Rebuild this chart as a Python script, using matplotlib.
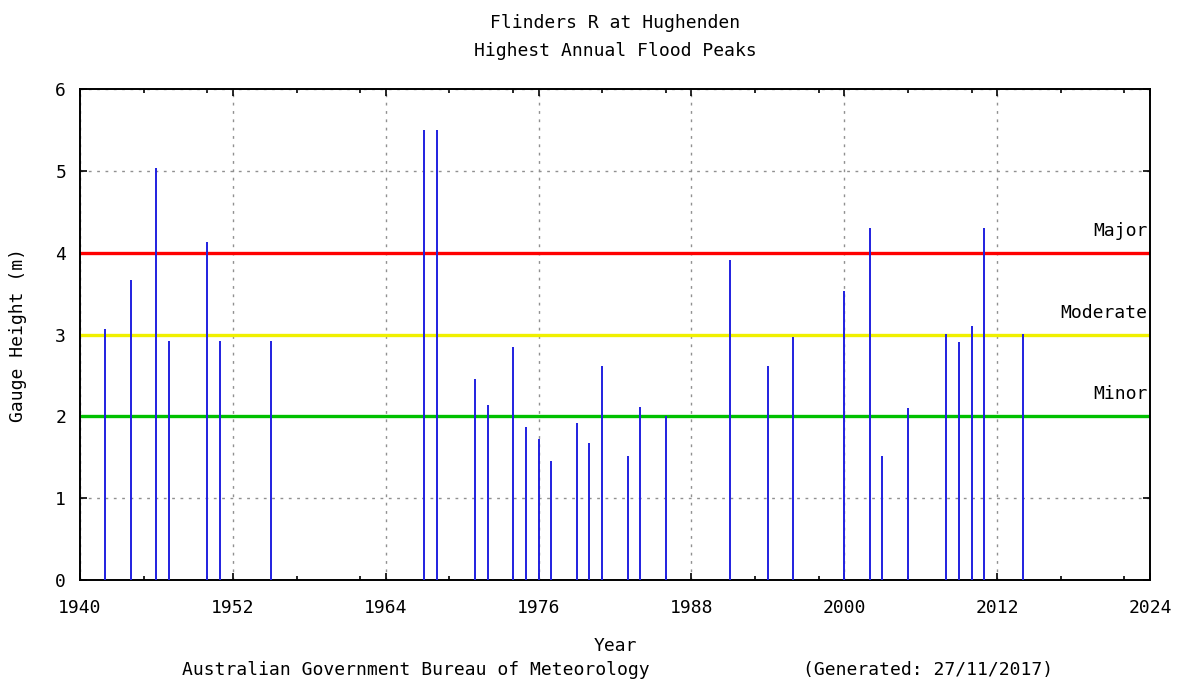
import matplotlib.pyplot as plt
from matplotlib.ticker import FixedLocator

# Highest annual flood peaks (gauge height, m)
years = [1942, 1944, 1946, 1947, 1950, 1951, 1955, 1967, 1968, 1971, 1972,
         1974, 1975, 1976, 1977, 1979, 1980, 1981, 1983, 1984, 1986, 1991,
         1994, 1996, 2000, 2002, 2003, 2005, 2008, 2009, 2010, 2011, 2014]
heights = [3.07, 3.67, 5.04, 2.92, 4.13, 2.92, 2.92, 5.50, 5.50, 2.46, 2.14,
           2.85, 1.87, 1.73, 1.46, 1.92, 1.67, 2.62, 1.52, 2.11, 2.01, 3.92,
           2.62, 2.97, 3.54, 4.31, 1.52, 2.10, 3.01, 2.91, 3.11, 4.31, 3.01]

# Flood classification levels
level_names = ['Minor', 'Moderate', 'Major']
level_values = [2, 3, 4]
level_colors = ['#00c000', '#f0f000', '#ff0000']

x_ticks = [1940, 1952, 1964, 1976, 1988, 2000, 2012, 2024]
x_minor = [1945, 1950, 1957, 1962, 1969, 1974, 1981, 1986,
           1993, 1998, 2005, 2010, 2017, 2022]
y_ticks = [0, 1, 2, 3, 4, 5, 6]

plt.rcParams['font.family'] = ['DejaVu Sans Mono']
plt.rcParams['font.size'] = 13

fig = plt.figure(figsize=(11.78, 6.82), dpi=100)
ax = fig.add_axes([0.0679, 0.1496, 0.9083, 0.7192])

for name, val, col in zip(level_names, level_values, level_colors):
    ax.axhline(val, color=col, linewidth=2.4, zorder=2)
    ax.text(2023.8, val + 0.16, name, ha='right', va='bottom', fontsize=13)

ax.vlines(years, 0, heights, color='#2020e0', linewidth=1.4, zorder=3)

ax.set_xlim(1940, 2024)
ax.set_ylim(0, 6)
ax.set_xticks(x_ticks)
ax.xaxis.set_minor_locator(FixedLocator(x_minor))
ax.set_yticks(y_ticks)
ax.tick_params(which='both', direction='in', top=True, right=True)
ax.tick_params(which='major', length=5, width=1.2)
ax.tick_params(which='minor', length=3, width=1.2)
ax.tick_params(axis='x', labelsize=13, pad=14)
ax.tick_params(axis='y', labelsize=13, pad=10)

ax.grid(True, which='major', color='#909090', linestyle=(0, (2, 4)), linewidth=1)
for s in ax.spines.values():
    s.set_linewidth(1.4)

ax.set_xlabel('Year', fontsize=13, labelpad=14)
ax.set_ylabel('Gauge Height (m)', fontsize=13, labelpad=20)

fig.text(0.522, 0.967, 'Flinders R at Hughenden', ha='center', va='center', fontsize=13)
fig.text(0.522, 0.925, 'Highest Annual Flood Peaks', ha='center', va='center', fontsize=13)
fig.text(0.353, 0.017, 'Australian Government Bureau of Meteorology', ha='center', va='center', fontsize=13)
fig.text(0.788, 0.017, '(Generated: 27/11/2017)', ha='center', va='center', fontsize=13)

fig.savefig('out.png', dpi=100)
